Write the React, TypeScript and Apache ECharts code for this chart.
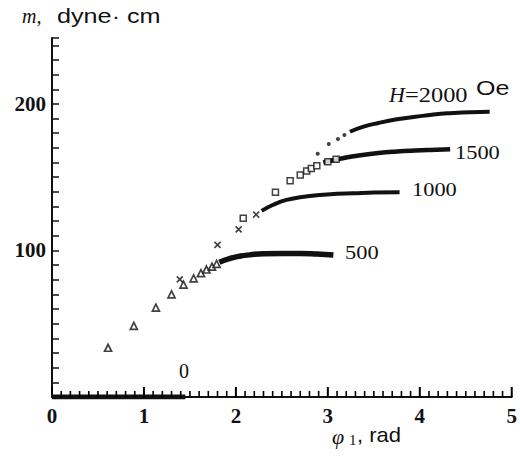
import React, { useEffect, useRef } from "react";
import * as echarts from "echarts";

// ---- data ----
const h0Curve: number[][] = [[0.0, 0], [0.5, 0], [1.0, 0], [1.45, 0]];

const h500Markers: number[][] = [
  [0.61, 33.6], [0.89, 48.5], [1.13, 61], [1.30, 70], [1.43, 76.7],
  [1.54, 81], [1.62, 84.6], [1.68, 87], [1.74, 89], [1.79, 90.8],
];
const h500Curve: number[][] = [
  [1.82, 92], [1.93, 94.5], [2.05, 96.2], [2.15, 97], [2.3, 97.8],
  [2.51, 98], [2.7, 98], [2.88, 97.6], [3.06, 96.9],
];

const h1000Markers: number[][] = [[1.39, 80.3], [1.80, 103.8], [2.03, 114.4], [2.22, 124.5]];
const h1000Curve: number[][] = [
  [2.28, 127], [2.4, 131], [2.55, 134.5], [2.72, 136.5], [2.91, 137.9],
  [3.1, 138.7], [3.27, 139], [3.5, 139.5], [3.78, 139.7],
];

const h1500Markers: number[][] = [
  [2.08, 122], [2.43, 139.7], [2.59, 147.5], [2.70, 151.5], [2.77, 154.3],
  [2.82, 156], [2.88, 157.9], [3.0, 160.6], [3.09, 162.2],
];
const h1500Curve: number[][] = [
  [2.95, 160], [3.2, 163.5], [3.38, 165.2], [3.55, 166.5], [3.75, 167.5],
  [3.95, 168.2], [4.11, 168.6], [4.33, 169],
];

const h2000Markers: number[][] = [[2.89, 166], [3.01, 172.7], [3.11, 176], [3.18, 178.8]];
const h2000Curve: number[][] = [
  [3.24, 181], [3.38, 184.3], [3.55, 187], [3.75, 189.5], [3.95, 191.2],
  [4.15, 192.8], [4.36, 193.8], [4.55, 194.4], [4.76, 194.7],
];

// axis tick positions
const xMajorTicks = [0, 1, 2, 3, 4, 5];
const xMinorTicks: number[] = [];
for (let i = 1; i < 50; i++) if (i % 10 !== 0) xMinorTicks.push(i / 10);
const yTickLabels = [100, 200];

const INK = "#111";
const SERIF = "'Liberation Serif', 'DejaVu Serif', serif";
const SANS = "'Liberation Sans', Arial, sans-serif";

export default function App() {
  const ref = useRef<HTMLDivElement>(null);
  useEffect(() => {
    if (!ref.current) return;
    const chart = echarts.init(ref.current, null, { renderer: "svg" });
    const curve = (name: string, data: number[][], w: number) => ({
      name,
      type: "line",
      data,
      smooth: true,
      symbol: "none",
      lineStyle: { color: INK, width: w },
      z: 3,
    });
    const tickSeries = (name: string, values: number[], len: number, w: number) => ({
      name,
      type: "scatter",
      data: values.map((v) => [v, 0]),
      silent: true,
      clip: false,
      symbol: "rect",
      symbolSize: [w, len],
      symbolOffset: [0, -len / 2],
      itemStyle: { color: "#000", opacity: 1 },
      z: 10,
    });
    const txt = (text: string, left: number, top: number, font: string, sx = 1) => ({
      type: "text",
      left,
      top,
      scaleX: sx,
      style: { text, font, fill: INK },
    });
    chart.setOption({
      animation: false,
      backgroundColor: "#fff",
      grid: { left: 52, right: 8, top: 38, bottom: 60 },
      xAxis: {
        type: "value",
        min: 0,
        max: 5,
        interval: 1,
        axisLine: { show: true, onZero: false, lineStyle: { color: INK, width: 2 } },
        axisTick: { show: false },
        splitLine: { show: false },
        axisLabel: {
          color: INK,
          fontFamily: SERIF,
          fontWeight: "bold",
          fontSize: 21,
          margin: 8,
        },
      },
      yAxis: {
        type: "value",
        min: 0,
        max: 245,
        interval: 10,
        axisLine: { show: true, onZero: false, lineStyle: { color: INK, width: 2 } },
        axisTick: { show: true, inside: true, length: 7, lineStyle: { color: INK, width: 1.5 } },
        splitLine: { show: false },
        axisLabel: {
          color: INK,
          fontFamily: SERIF,
          fontWeight: "bold",
          fontSize: 21,
          margin: 6,
          formatter: (v: number) => (yTickLabels.indexOf(v) >= 0 ? String(v) : ""),
        },
      },
      series: [
        curve("0", h0Curve, 5),
        {
          name: "500 markers",
          type: "scatter",
          data: h500Markers,
          symbol: "triangle",
          symbolSize: 7,
          itemStyle: { color: "#fff", borderColor: INK, borderWidth: 1.7 },
        },
        curve("500", h500Curve, 5.5),
        {
          name: "1000 markers",
          type: "scatter",
          data: h1000Markers,
          symbol: "path://M0,0L10,10M10,0L0,10",
          symbolSize: 6,
          itemStyle: { color: "none", borderColor: INK, borderWidth: 1.6 },
        },
        curve("1000", h1000Curve, 4),
        {
          name: "1500 markers",
          type: "scatter",
          data: h1500Markers,
          symbol: "rect",
          symbolSize: 6,
          itemStyle: { color: "#fff", borderColor: INK, borderWidth: 1.5 },
          z: 4,
        },
        curve("1500", h1500Curve, 4.5),
        {
          name: "2000 markers",
          type: "scatter",
          data: h2000Markers,
          symbol: "circle",
          symbolSize: 4,
          itemStyle: { color: INK },
        },
        curve("2000", h2000Curve, 4),
        tickSeries("x major ticks", xMajorTicks, 10, 2),
        tickSeries("x minor ticks", xMinorTicks, 6, 1.6),
      ],
      graphic: [
        // axis titles
        txt("m,", 22, 6, `italic 20px ${SERIF}`),
        txt("dyne· cm", 57, 5, `21px ${SANS}`, 1.2),
        txt("φ", 332, 425, `italic 22px ${SERIF}`),
        txt("1", 349, 432, `15px ${SERIF}`),
        txt(", rad", 357, 425, `20px ${SANS}`, 1.1),
        // curve labels
        txt("0", 179, 361, `20px ${SERIF}`),
        txt("500", 345, 243, `19px ${SERIF}`, 1.18),
        txt("1000", 412, 180, `19px ${SERIF}`, 1.18),
        txt("1500", 455, 143, `19px ${SERIF}`, 1.18),
        txt("H", 389, 85, `italic 20px ${SERIF}`, 1.1),
        txt("=2000", 405, 85, `20px ${SERIF}`, 1.22),
        txt("Oe", 476, 78, `20px ${SANS}`, 1.25),
      ],
    });
    return () => chart.dispose();
  }, []);
  return (
    <div
      ref={ref}
      style={{ position: "fixed", left: 0, top: 0, width: 520, height: 457, background: "#fff" }}
    />
  );
}
